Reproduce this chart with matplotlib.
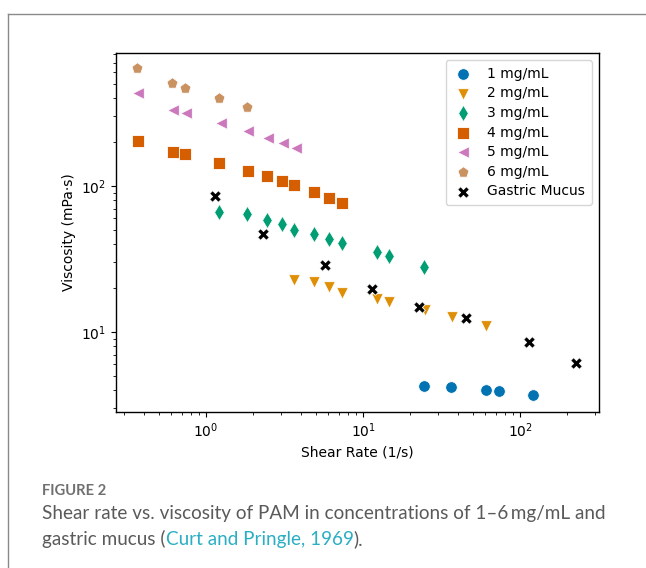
import matplotlib
matplotlib.use("Agg")
import matplotlib.pyplot as plt
from matplotlib.lines import Line2D

# ---- data ----
x_1 = [24.4, 36.5, 60.7, 73.2, 121]
y_1 = [4.27, 4.18, 4.01, 3.94, 3.70]

x_2 = [3.65, 4.87, 6.07, 7.32, 12.2, 14.6, 24.8, 36.6, 60.7]
y_2 = [22.7, 22.1, 20.2, 18.6, 16.8, 16.0, 14.2, 12.6, 11.0]

x_3 = [1.215, 1.824, 2.44, 3.04, 3.65, 4.90, 6.07, 7.32, 12.2, 14.6, 24.4]
y_3 = [66.7, 64.0, 58.5, 54.9, 50.0, 46.7, 43.4, 40.9, 35.5, 33.2, 28.0]

x_4 = [0.369, 0.613, 0.735, 1.215, 1.84, 2.45, 3.03, 3.65, 4.87, 6.10, 7.38]
y_4 = [204, 170, 165, 144, 127, 117, 108, 101.6, 90.6, 83.2, 76.9]

x_5 = [0.371, 0.619, 0.743, 1.24, 1.86, 2.47, 3.08, 3.74]
y_5 = [432, 331, 315, 269, 238, 212, 196, 181]

x_6 = [0.365, 0.610, 0.735, 1.215, 1.824]
y_6 = [640, 510, 471, 403, 349]

x_gm = [1.146, 2.30, 5.75, 11.4, 22.7, 45.5, 114, 228]
y_gm = [85.0, 47.1, 28.6, 19.7, 14.9, 12.5, 8.5, 6.17]

labels = ["1 mg/mL", "2 mg/mL", "3 mg/mL", "4 mg/mL", "5 mg/mL", "6 mg/mL", "Gastric Mucus"]
colors = ["#0173B2", "#DE8F05", "#029E73", "#D55E00", "#CC78BC", "#CA9161", "#000000"]
markers = ["o", "v", "d", "s", "<", "p", "X"]

series = [(x_1, y_1), (x_2, y_2), (x_3, y_3), (x_4, y_4), (x_5, y_5), (x_6, y_6), (x_gm, y_gm)]

fig = plt.figure(figsize=(6.46, 5.68), dpi=100)
ax = fig.add_axes([0.1796, 0.2746, 0.9272 - 0.1796, 0.9067 - 0.2746])

for (xs, ys), lab, c, m in zip(series, labels, colors, markers):
    ax.scatter(xs, ys, s=70, marker=m, color=c, edgecolors="white", linewidths=0.6, label=lab, zorder=3)

ax.set_xscale("log")
ax.set_yscale("log")
ax.set_xlim(0.267, 318)
ax.set_ylim(2.83, 815)
ax.set_xlabel("Shear Rate (1/s)", fontsize=10)
ax.set_ylabel("Viscosity (mPa·s)", fontsize=10)
ax.tick_params(labelsize=10)
for sp in ax.spines.values():
    sp.set_linewidth(1.0)

leg = ax.legend(loc="upper right", fontsize=10, frameon=True, borderpad=0.5,
                handletextpad=1.0, handlelength=1.5, labelspacing=0.4, borderaxespad=0.5)
leg.get_frame().set_edgecolor("#cccccc")

# ---- frame lines and caption ----
fig.add_artist(Line2D([8 / 646, 8 / 646], [0, 1 - 14 / 568], color="#8a8a8a", lw=1.0))
fig.add_artist(Line2D([8 / 646, 1], [1 - 14 / 568, 1 - 14 / 568], color="#8a8a8a", lw=1.0))

cap_font = ["Lato", "DejaVu Sans"]
fs = 13.6
fig.text(42 / 646, 1 - 491 / 568, "FIGURE 2", fontsize=10.6, color="#707070",
         family=cap_font, fontweight="bold", va="center", ha="left")
fig.text(42 / 646, 1 - 514 / 568,
         "Shear rate vs. viscosity of PAM in concentrations of 1\u20136\u2009mg/mL and",
         fontsize=fs, color="#5a5a5a", family=cap_font, va="center", ha="left")
t1 = fig.text(42 / 646, 1 - 539 / 568, "gastric mucus (", fontsize=fs, color="#5a5a5a",
              family=cap_font, va="center", ha="left")
fig.canvas.draw()
r = fig.canvas.get_renderer()
bb = t1.get_window_extent(r)
x2 = bb.x1 / fig.bbox.width
t2 = fig.text(x2, 1 - 539 / 568, "Curt and Pringle, 1969", fontsize=fs, color="#2aaec4",
              family=cap_font, va="center", ha="left")
bb2 = t2.get_window_extent(r)
fig.text(bb2.x1 / fig.bbox.width, 1 - 539 / 568, ").", fontsize=fs, color="#5a5a5a",
         family=cap_font, va="center", ha="left")

fig.savefig("out.png", dpi=100)
